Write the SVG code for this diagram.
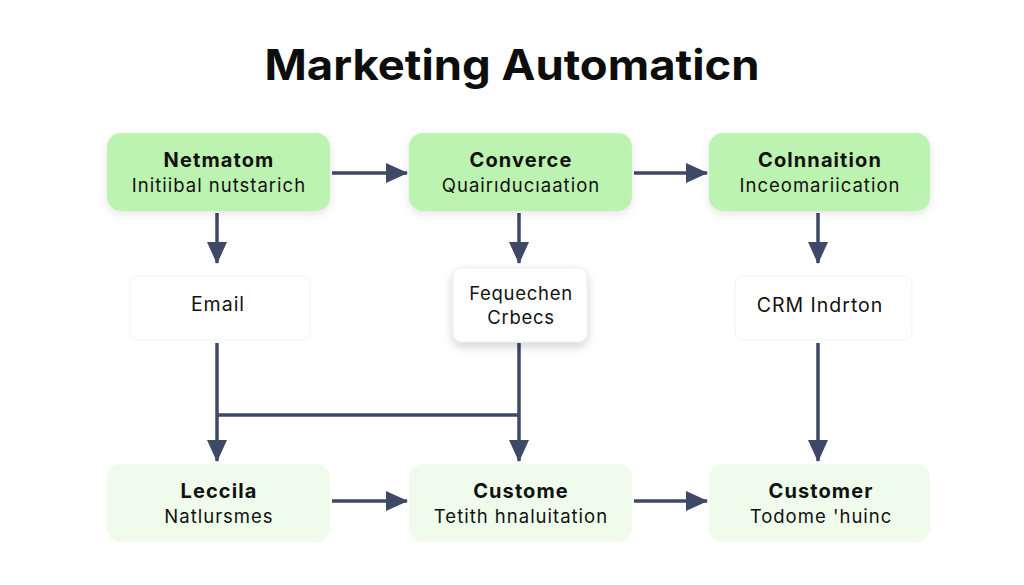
<svg xmlns="http://www.w3.org/2000/svg" width="1024" height="585" viewBox="0 0 1024 585">
<defs>
<style>
.title{font-family:Inter,"Liberation Sans",sans-serif;font-weight:700;font-size:42px;fill:#0d0d0d}
.h{font-family:Inter,"Liberation Sans",sans-serif;font-weight:700;font-size:20px;letter-spacing:1.1px;fill:#111}
.s{font-family:Inter,"Liberation Sans",sans-serif;font-weight:400;font-size:18.5px;letter-spacing:1px;fill:#111}
.m{font-family:Inter,"Liberation Sans",sans-serif;font-weight:400;font-size:19.5px;letter-spacing:1px;fill:#111}
.f{font-family:Inter,"Liberation Sans",sans-serif;font-weight:400;font-size:18.5px;letter-spacing:0.7px;fill:#111}
.top{fill:#bdf3b0}
.bot{fill:#effcec}
.mid{fill:#ffffff}
.c{stroke:#3d4966;stroke-width:3.5;fill:none}
</style>
<marker id="ah" markerUnits="userSpaceOnUse" viewBox="0 0 22 20" refX="21" refY="10" markerWidth="22" markerHeight="20" orient="auto">
<path d="M0,0 L22,10 L0,20 Z" fill="#3d4966"/>
</marker>
<filter id="sh" x="-20%" y="-20%" width="140%" height="150%">
<feDropShadow dx="0" dy="3" stdDeviation="4" flood-color="#000" flood-opacity="0.10"/>
</filter>
<filter id="sh2" x="-20%" y="-20%" width="140%" height="150%">
<feDropShadow dx="0" dy="4" stdDeviation="5" flood-color="#000" flood-opacity="0.18"/>
</filter>
</defs>
<rect width="1024" height="585" fill="#ffffff"/>
<text class="title" x="512" y="80" text-anchor="middle" textLength="495" lengthAdjust="spacingAndGlyphs">Marketing Automaticn</text>

<g id="connectors">
<line class="c" x1="332" y1="173" x2="407" y2="173" marker-end="url(#ah)"/>
<line class="c" x1="634" y1="173" x2="707" y2="173" marker-end="url(#ah)"/>
<line class="c" x1="217" y1="213" x2="217" y2="263" marker-end="url(#ah)"/>
<line class="c" x1="519" y1="213" x2="519" y2="263" marker-end="url(#ah)"/>
<line class="c" x1="818" y1="213" x2="818" y2="263" marker-end="url(#ah)"/>
<line class="c" x1="217" y1="343" x2="217" y2="461" marker-end="url(#ah)"/>
<line class="c" x1="519" y1="343" x2="519" y2="461" marker-end="url(#ah)"/>
<line class="c" x1="217" y1="415" x2="519" y2="415"/>
<line class="c" x1="818" y1="343" x2="818" y2="461" marker-end="url(#ah)"/>
<line class="c" x1="332" y1="501" x2="407" y2="501" marker-end="url(#ah)"/>
<line class="c" x1="634" y1="501" x2="707" y2="501" marker-end="url(#ah)"/>
</g>

<g id="n1">
<rect class="top" x="107" y="133" width="223" height="78" rx="14" filter="url(#sh)"/>
<text class="h" x="219" y="167" text-anchor="middle">Netmatom</text>
<text class="s" x="219" y="192" text-anchor="middle">Initiibal  nutstarich</text>
</g>
<g id="n2">
<rect class="top" x="409" y="133" width="223" height="78" rx="14" filter="url(#sh)"/>
<text class="h" x="521" y="167" text-anchor="middle">Converce</text>
<text class="s" x="521" y="192" text-anchor="middle">Quairıducıaation</text>
</g>
<g id="n3">
<rect class="top" x="709" y="133" width="221" height="78" rx="14" filter="url(#sh)"/>
<text class="h" x="820" y="167" text-anchor="middle">Colnnaition</text>
<text class="s" x="820" y="192" text-anchor="middle">Inceomariication</text>
</g>

<g id="m1">
<rect class="mid" x="130" y="276" width="180" height="64" rx="8" stroke="#f4f4f4" stroke-width="1"/>
<text class="m" x="218" y="311" text-anchor="middle">Email</text>
</g>
<g id="m2">
<rect class="mid" x="453" y="268" width="134" height="74" rx="8" filter="url(#sh2)" stroke="#ececec" stroke-width="1"/>
<text class="f" x="521" y="300" text-anchor="middle">Fequechen</text>
<text class="f" x="521" y="324" text-anchor="middle">Crbecs</text>
</g>
<g id="m3">
<rect class="mid" x="735" y="276" width="177" height="64" rx="8" stroke="#f4f4f4" stroke-width="1"/>
<text class="m" x="820" y="312" text-anchor="middle">CRM Indrton</text>
</g>

<g id="b1">
<rect class="bot" x="107" y="464" width="223" height="78" rx="14"/>
<text class="h" x="219" y="498" text-anchor="middle">Leccila</text>
<text class="s" x="219" y="523" text-anchor="middle">Natlursmes</text>
</g>
<g id="b2">
<rect class="bot" x="409" y="464" width="223" height="78" rx="14"/>
<text class="h" x="521" y="498" text-anchor="middle">Custome</text>
<text class="s" x="521" y="523" text-anchor="middle">Tetith hnaluitation</text>
</g>
<g id="b3">
<rect class="bot" x="709" y="464" width="221" height="78" rx="14"/>
<text class="h" x="821" y="498" text-anchor="middle">Customer</text>
<text class="s" x="821" y="523" text-anchor="middle">Todome 'huinc</text>
</g>
</svg>
